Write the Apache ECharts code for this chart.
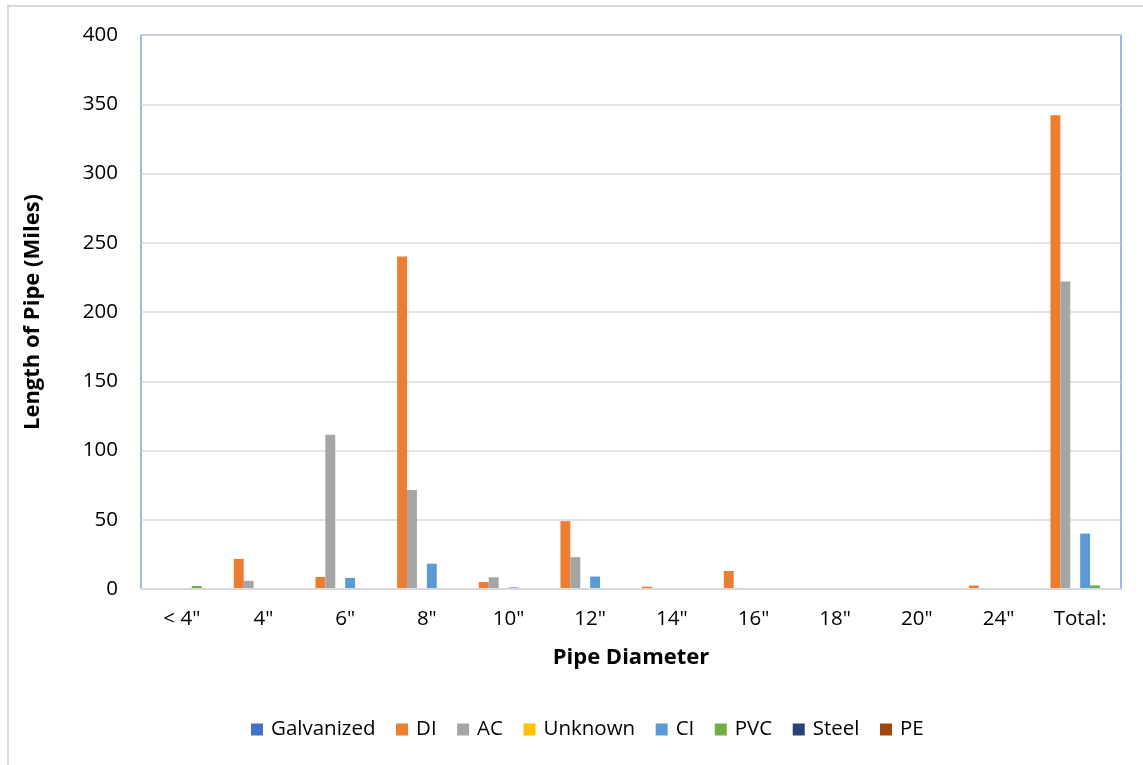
<!DOCTYPE html>
<html>
<head>
<meta charset="utf-8">
<script src="https://cdn.jsdelivr.net/npm/echarts@6/dist/echarts.min.js"></script>
<style>
  html, body { margin: 0; padding: 0; background: #ffffff; }
  #chart { width: 1143px; height: 765px; }
</style>
</head>
<body>
<div id="chart"></div>
<script>
// Pipe inventory by diameter and material (miles)
const diameters = ['< 4"', '4"', '6"', '8"', '10"', '12"', '14"', '16"', '18"', '20"', '24"', 'Total:'];

const galvanized = [0, 0, 0, 0, 0, 0, 0, 0, 0, 0, 0, 0];
const di         = [0, 21.7, 8.7, 240, 5, 49, 1.7, 13, 0, 0.3, 2.5, 342];
const ac         = [0, 5.9, 111.4, 71.5, 8.5, 23, 0.4, 0.8, 0, 0, 0, 222];
const unknown    = [0.5, 0, 0, 0, 0, 0, 0, 0, 0, 0, 0, 0.5];
const ci         = [0, 0.6, 8, 18.3, 1.2, 9, 0.3, 0.5, 0.4, 0, 0.6, 40];
const pvc        = [2.2, 0, 0, 0, 0, 0, 0, 0, 0, 0, 0, 2.6];
const steel      = [0, 0, 0, 0, 0, 0, 0, 0, 0, 0, 0, 0];
const pe         = [0.5, 0, 0, 0, 0, 0, 0, 0, 0, 0, 0, 0.5];

const materials = [
  { name: 'Galvanized', data: galvanized, color: '#4472c4' },
  { name: 'DI',         data: di,         color: '#ed7d31' },
  { name: 'AC',         data: ac,         color: '#a5a5a5' },
  { name: 'Unknown',    data: unknown,    color: '#ffc000' },
  { name: 'CI',         data: ci,         color: '#5b9bd5' },
  { name: 'PVC',        data: pvc,        color: '#70ad47' },
  { name: 'Steel',      data: steel,      color: '#264478' },
  { name: 'PE',         data: pe,         color: '#9e480e' }
];

const yTicks = [0, 50, 100, 150, 200, 250, 300, 350, 400];

const FONT = '"Open Sans", "Noto Sans", sans-serif';

const chart = echarts.init(document.getElementById('chart'), null, { renderer: 'canvas' });

chart.setOption({
  animation: false,
  backgroundColor: '#ffffff',
  textStyle: { fontFamily: FONT, color: '#000000' },
  graphic: [
    {
      type: 'rect',
      shape: { x: 8, y: 6, width: 1200, height: 820 },
      style: { fill: 'none', stroke: '#d9d9d9', lineWidth: 2 },
      silent: true
    }
  ],
  grid: {
    left: 141,
    top: 35,
    width: 980,
    height: 554,
    show: true,
    borderColor: '#7da0df',
    borderWidth: 1.5,
    containLabel: false
  },
  legend: {
    bottom: 20,
    left: 246,
    itemWidth: 12,
    itemHeight: 12,
    itemGap: 20.5,
    icon: 'rect',
    textStyle: { fontFamily: FONT, fontSize: 20.5, color: '#000000', padding: [0, 0, 0, 3] },
    data: materials.map(m => m.name)
  },
  xAxis: {
    type: 'category',
    data: diameters,
    name: 'Pipe Diameter',
    nameLocation: 'middle',
    nameGap: 58,
    nameTextStyle: { fontFamily: FONT, fontSize: 22, fontWeight: 'bold', color: '#000000' },
    axisLine: { show: true, lineStyle: { color: '#d9d9d9', width: 2 } },
    axisTick: { show: false },
    axisLabel: { fontFamily: FONT, fontSize: 20.5, color: '#000000', margin: 20 },
    splitLine: { show: false },
    z: 5
  },
  yAxis: {
    type: 'value',
    min: yTicks[0],
    max: yTicks[yTicks.length - 1],
    interval: yTicks[1] - yTicks[0],
    name: 'Length of Pipe (Miles)',
    nameLocation: 'middle',
    nameGap: 97,
    nameTextStyle: { fontFamily: FONT, fontSize: 22, fontWeight: 'bold', color: '#000000' },
    axisLine: { show: false },
    axisTick: { show: false },
    axisLabel: { fontFamily: FONT, fontSize: 20.5, color: '#000000', margin: 23 },
    splitLine: { show: true, lineStyle: { color: '#d9d9d9', width: 1.5 } }
  },
  series: materials.map(m => ({
    name: m.name,
    type: 'bar',
    data: m.data,
    barGap: '0%',
    barCategoryGap: '3%',
    itemStyle: { color: m.color },
    emphasis: { disabled: true }
  }))
});
</script>
</body>
</html>
